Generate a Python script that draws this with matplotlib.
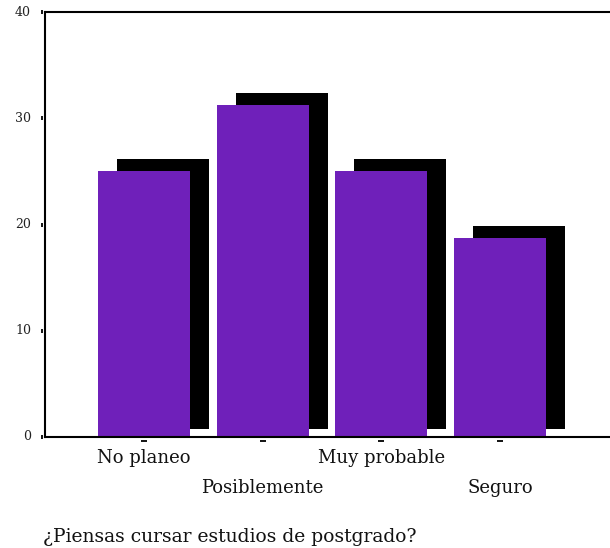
import matplotlib
matplotlib.use("Agg")
import matplotlib.pyplot as plt
from matplotlib import transforms

categories = ["No planeo", "Posiblemente", "Muy probable", "Seguro"]
values = [25.0, 31.25, 25.0, 18.75]
yticks = [0, 10, 20, 30, 40]
xlabel = "¿Piensas cursar estudios de postgrado?"

PURPLE = "#6F20BA"
plt.rcParams["font.family"] = ["DejaVu Serif", "Liberation Serif"]

fig = plt.figure(figsize=(6.10, 5.48), dpi=100)
ax = fig.add_axes([45 / 610, 111 / 548, 1 - 45 / 610, (437 - 12) / 548])

x = list(range(len(categories)))
width = 0.775
# shadow (offset right and up)
sh_dx = 0.16
sh_bottom = 0.75
sh_top_extra = 1.13
ax.bar([i + sh_dx for i in x], [v + sh_top_extra - sh_bottom for v in values],
       bottom=sh_bottom, width=width, color="black", zorder=1)
ax.bar(x, values, width=width, color=PURPLE, zorder=2)

ax.set_xlim(-0.834, 3.927)
ax.set_ylim(0, 40)

for s in ["left", "top", "bottom"]:
    ax.spines[s].set_linewidth(1.5)
ax.spines["right"].set_visible(False)

ax.set_xticks([])
ax.set_yticks([])

# y ticks: small vertical marks detached from spine + labels
ytr = transforms.blended_transform_factory(ax.transAxes, ax.transData)
for t in yticks:
    ax.plot([-3 / 565], [t], marker="|", markersize=3.5, markeredgewidth=1.3,
            color="black", transform=ytr, clip_on=False)
    ax.text(-14 / 565, t, str(t), transform=ytr, ha="right", va="center",
            fontsize=9, color="#222222")

# x ticks and alternating labels
xtr = transforms.blended_transform_factory(ax.transData, ax.transAxes)
for i, c in enumerate(categories):
    ax.plot([i], [-4 / 425], marker="_", markersize=4, markeredgewidth=1.3,
            color="black", transform=xtr, clip_on=False)
    ypix = 458 if i % 2 == 0 else 488
    ax.text(i, (437 - ypix) / 425, c, transform=xtr, ha="center", va="center",
            fontsize=13, color="#111111")

fig.text(43 / 610, (548 - 542) / 548, xlabel, ha="left", va="baseline",
         fontsize=13.5, color="#111111")

fig.savefig("out.png", dpi=100)
